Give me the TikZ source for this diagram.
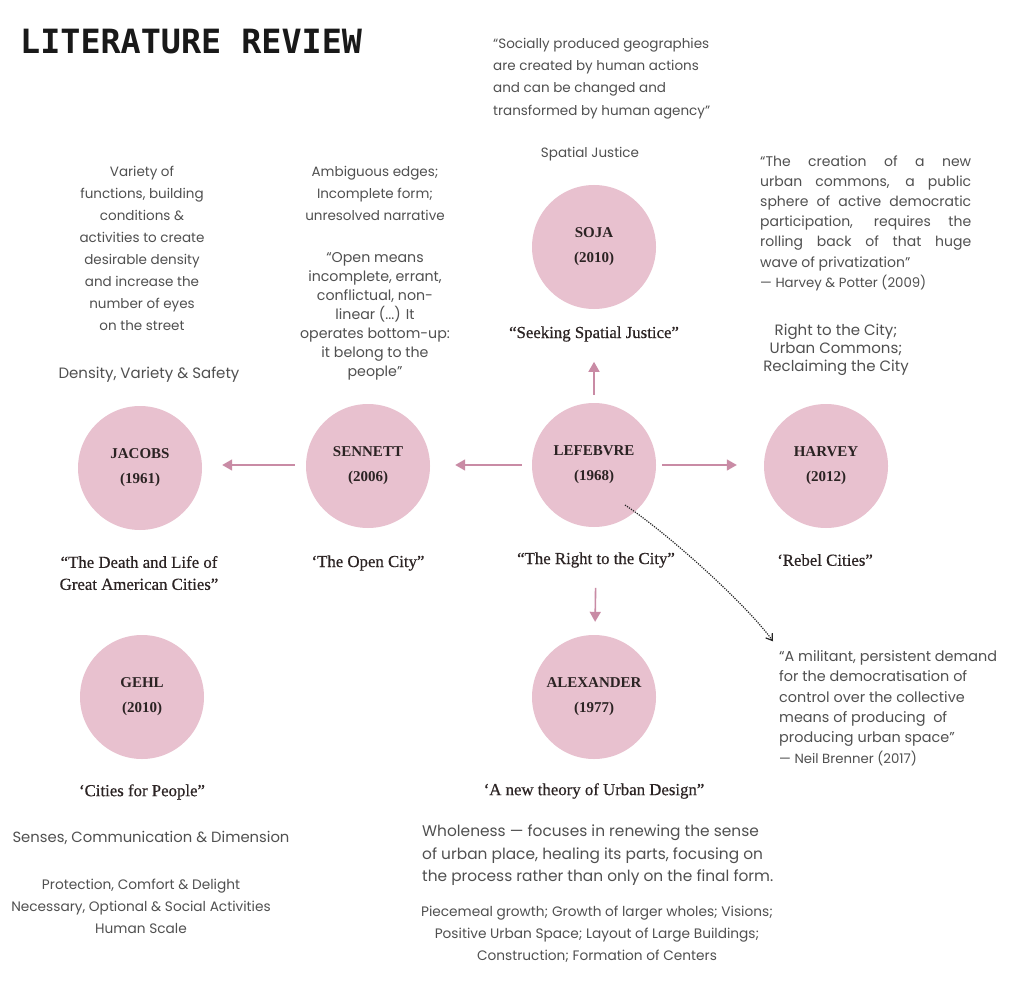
\documentclass[tikz,border=0pt]{standalone}
\usepackage{fontspec}
\setmainfont{Liberation Serif}
\newfontfamily\txtf{Poppins}
\newfontfamily\monof{DejaVu Sans Mono}
\newfontfamily\ttlf{Liberation Serif}[FakeBold=0.5]
\usetikzlibrary{arrows.meta,calc}
\definecolor{circ}{HTML}{E8C1CF}
\definecolor{arr}{HTML}{C98BA5}
\definecolor{txtc}{HTML}{505050}
\definecolor{dark}{HTML}{2B2323}
\newcommand\jline[1]{\makebox[211pt][s]{#1}}
\tikzset{
 author/.style={circle, fill=circ, minimum size=124pt, inner sep=0pt, align=center, font=\bfseries\fontsize{15}{25}\selectfont, text=dark},
 booktitle/.style={inner sep=0pt, align=center, font=\ttlf\fontsize{16.8}{22}\selectfont, text=dark},
 body/.style={inner sep=0pt, text=txtc},
 flow/.style={draw=arr, line width=1.6pt, -{Triangle[length=10pt,width=11pt]}},
 dotlink/.style={draw=black!85, line width=1.2pt, dash pattern=on 1.2pt off 1.2pt, -{Straight Barb[length=6pt,width=8pt]}},
}
\begin{document}
\begin{tikzpicture}[x=1pt,y=-1pt]
\useasboundingbox (0,0) rectangle (1024,981);
\fill[white] (0,0) rectangle (1024,981);
\node[anchor=west, inner sep=0pt, font=\monof\bfseries\fontsize{33.4}{36}\selectfont, text=black!90] (title) at (20,42) {LITERATURE REVIEW};

% SOJA
\node[body, anchor=west, align=left, font=\txtf\fontsize{13.5}{22.3}\selectfont] (sojaq) at (493,78.5) {“Socially produced geographies\\are created by human actions\\and can be changed and\\transformed by human agency”};
\node[body, font=\txtf\fontsize{13.5}{16}\selectfont] (sojak) at (590,154) {Spatial Justice};
\node[author] (soja) at (594,247) {SOJA\\(2010)};
\node[booktitle] (sojat) at (594,334) {“Seeking Spatial Justice”};

% HARVEY texts
\node[body, anchor=west, align=left, font=\txtf\fontsize{14}{20.2}\selectfont] (harq) at (760,223) {\jline{“The creation of a new}\\\jline{urban commons, a public}\\\jline{sphere of active democratic}\\\jline{participation, requires the}\\\jline{rolling back of that huge}\\wave of privatization”\\{\fontsize{13.3}{21}\selectfont — Harvey \& Potter (2009)}};
\node[body, align=center, font=\txtf\fontsize{15}{18}\selectfont] (harkw) at (836,350) {Right to the City;\\Urban Commons;\\Reclaiming the City};

% SENNETT texts
\node[body, align=center, font=\txtf\fontsize{13.5}{22}\selectfont] (senkw) at (375,193) {Ambiguous edges;\\Incomplete form;\\unresolved narrative};
\node[body, align=center, font=\txtf\fontsize{14.2}{19}\selectfont] (senq) at (375,316) {“Open means\\incomplete, errant,\\conflictual, non-\\linear (...) It\\operates bottom-up:\\it belong to the\\people”};

% JACOBS texts
\node[body, align=center, font=\txtf\fontsize{13.5}{22}\selectfont] (jackw) at (142,248) {Variety of\\functions, building\\conditions \&\\activities to create\\desirable density\\and increase the\\number of eyes\\on the street};
\node[body, font=\txtf\fontsize{15}{18}\selectfont] (jacdv) at (149,375) {Density, Variety \& Safety};

% circles row
\node[author] (jacobs) at (140,468) {JACOBS\\(1961)};
\node[author] (sennett) at (368,466) {SENNETT\\(2006)};
\node[author] (lef) at (594,465) {LEFEBVRE\\(1968)};
\node[author] (harvey) at (826,466) {HARVEY\\(2012)};

\node[booktitle] (jacobst) at (139,573) {“The Death and Life of\\Great American Cities”};
\node[booktitle] (sennettt) at (368,563) {‘The Open City”};
\node[booktitle] (left) at (596,560) {“The Right to the City”};
\node[booktitle] (harveyt) at (825,560) {‘Rebel Cities”};

% lower row
\node[author] (gehl) at (142,697) {GEHL\\(2010)};
\node[author] (alex) at (594,697) {ALEXANDER\\(1977)};
\node[booktitle] (gehlt) at (142,792) {‘Cities for People”};
\node[booktitle] (alext) at (594,791) {‘A new theory of Urban Design”};

\node[body, font=\txtf\fontsize{14.8}{18}\selectfont] (gehlkw) at (151,838) {Senses, Communication \& Dimension};
\node[body, align=center, font=\txtf\fontsize{13.7}{22}\selectfont] (gehlp) at (141,906) {Protection, Comfort \& Delight\\Necessary, Optional \& Social Activities\\Human Scale};

\node[body, anchor=west, align=left, font=\txtf\fontsize{15.4}{22.5}\selectfont] (alexw) at (422,855.5) {Wholeness — focuses in renewing the sense\\of urban place, healing its parts, focusing on\\the process rather than only on the final form.};
\node[body, align=center, font=\txtf\fontsize{13.7}{22}\selectfont] (alexp) at (597,934) {Piecemeal growth; Growth of larger wholes; Visions;\\Positive Urban Space; Layout of Large Buildings;\\Construction; Formation of Centers};

\node[body, anchor=west, align=left, font=\txtf\fontsize{14.4}{20.3}\selectfont] (brenq) at (779,708) {“A militant, persistent demand\\for the democratisation of\\control over the collective\\means of producing\ \ of\\producing urban space”\\{\fontsize{13.3}{20.5}\selectfont — Neil Brenner (2017)}};

% connectors
\draw[flow, shorten <=8pt, shorten >=20pt] (lef) -- (sojat);
\draw[flow, shorten <=10pt, shorten >=25pt] (lef.west) -- (lef.west -| sennett.east);
\draw[flow, shorten <=11pt, shorten >=20pt] (lef.west -| sennett.west) -- (lef.west -| jacobs.east);
\draw[flow, shorten <=6pt, shorten >=27pt] (lef.east) -- (lef.east -| harvey.west);
\draw[flow, shorten <=20pt, shorten >=13pt] (left) -- (alex);

\coordinate (dA) at ($(lef)+(31,40)$);
\coordinate (dB) at ($(brenq.north west)+(-6,-9)$);
\draw[dotlink] (dA) .. controls +(45,30) and +(-25,-35) .. (dB);
\end{tikzpicture}
\end{document}
